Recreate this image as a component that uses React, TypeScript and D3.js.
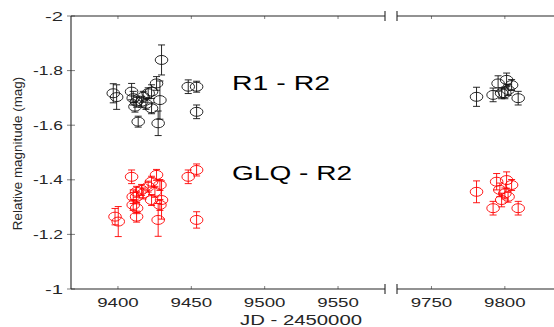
import React from 'react';
import * as d3 from 'd3';

// R1 - R2 (black)
const r1Jd = [9396.8, 9399.1, 9409.3, 9410.4, 9412.7, 9411.6, 9413.8, 9416.1, 9417.2, 9420.6, 9422.9, 9422.9, 9419.1, 9426.3, 9427.4, 9428.6, 9429.7, 9447.9, 9453.6, 9453.6,
  9780.7, 9792.0, 9795.4, 9797.8, 9800.0, 9801.2, 9802.2, 9804.6, 9809.1];
const r1Mag = [-1.717, -1.703, -1.723, -1.699, -1.686, -1.668, -1.613, -1.686, -1.704, -1.717, -1.723, -1.662, -1.678, -1.753, -1.607, -1.692, -1.839, -1.741, -1.741, -1.649,
  -1.704, -1.711, -1.753, -1.717, -1.717, -1.766, -1.729, -1.747, -1.699];
const r1Err = [0.035, 0.045, 0.03, 0.025, 0.02, 0.02, 0.02, 0.02, 0.02, 0.02, 0.025, 0.02, 0.02, 0.025, 0.045, 0.07, 0.055, 0.025, 0.02, 0.025,
  0.035, 0.025, 0.028, 0.02, 0.02, 0.025, 0.02, 0.02, 0.025];

// GLQ - R2 (red)
const glqJd = [9398.0, 9400.2, 9409.3, 9426.3, 9447.9, 9453.6, 9422.9, 9420.6, 9416.1, 9412.7, 9417.2, 9412.7, 9410.4, 9425.2, 9428.6, 9410.4, 9412.7, 9412.7, 9422.9, 9429.7, 9428.6, 9427.4, 9453.6,
  9780.7, 9792.0, 9794.4, 9796.6, 9797.8, 9800.0, 9801.2, 9802.2, 9804.6, 9809.1];
const glqMag = [-1.265, -1.247, -1.411, -1.418, -1.411, -1.436, -1.393, -1.375, -1.363, -1.356, -1.350, -1.338, -1.338, -1.356, -1.381, -1.308, -1.296, -1.265, -1.326, -1.326, -1.308, -1.253, -1.253,
  -1.356, -1.296, -1.393, -1.363, -1.326, -1.350, -1.399, -1.338, -1.381, -1.296];
const glqErr = [0.03, 0.055, 0.025, 0.02, 0.025, 0.022, 0.02, 0.02, 0.02, 0.02, 0.02, 0.02, 0.025, 0.02, 0.02, 0.02, 0.02, 0.02, 0.02, 0.07, 0.02, 0.06, 0.03,
  0.04, 0.025, 0.03, 0.025, 0.025, 0.02, 0.03, 0.02, 0.02, 0.025];

const xTicksLeft = [9400, 9450, 9500, 9550];
const xTicksRight = [9750, 9800];
const yTicks = [-2, -1.8, -1.6, -1.4, -1.2, -1];
const yTickLabels = ['-2', '-1.8', '-1.6', '-1.4', '-1.2', '-1'];

const W = 554;
const H = 327;
const breakJd = 9600;

const xLeft = d3.scaleLinear().domain([9368, 9582]).range([71, 385]);
const xRight = d3.scaleLinear().domain([9726.5, 9833.5]).range([397, 554]);
const y = d3.scaleLinear().domain([-2, -1]).range([16, 289]);
const xOf = (jd: number) => (jd < breakJd ? xLeft(jd) : xRight(jd));

const axisColor = '#262626';
const font = 'Liberation Sans, Arial, sans-serif';

const Series = ({ jd, mag, err, color }: { jd: number[]; mag: number[]; err: number[]; color: string }) => (
  <g stroke={color} strokeWidth={0.9} fill="none">
    {jd.map((d, i) => {
      const cx = xOf(d);
      const y0 = y(mag[i] - err[i]);
      const y1 = y(mag[i] + err[i]);
      return (
        <g key={i}>
          <line x1={cx} x2={cx} y1={y0} y2={y1} />
          <line x1={cx - 3.5} x2={cx + 3.5} y1={y0} y2={y0} />
          <line x1={cx - 3.5} x2={cx + 3.5} y1={y1} y2={y1} />
          <ellipse cx={cx} cy={y(mag[i])} rx={6.3} ry={4.5} />
        </g>
      );
    })}
  </g>
);

export default function App() {
  const top = y.range()[0];
  const bottom = y.range()[1];
  const [l0, l1] = xLeft.range();
  const [r0, r1] = xRight.range();

  return (
    <svg width={W} height={H} style={{ position: 'absolute', left: 0, top: 0, background: '#fff' }}>
      {/* axes */}
      <g stroke={axisColor} strokeWidth={1.1} fill="none">
        <line x1={l0} x2={l0} y1={top} y2={bottom} />
        <line x1={l0} x2={l1} y1={top} y2={top} />
        <line x1={l0} x2={l1} y1={bottom} y2={bottom} />
        <line x1={r0} x2={r1} y1={top} y2={top} />
        <line x1={r0} x2={r1} y1={bottom} y2={bottom} />
        {[l1, r0].map((bx) => (
          <g key={bx}>
            <line x1={bx} x2={bx} y1={top - 5} y2={top + 5} />
            <line x1={bx} x2={bx} y1={bottom - 5} y2={bottom + 5} />
          </g>
        ))}
      </g>
      <g stroke={axisColor} strokeWidth={0.6}>
        {yTicks.map((t) => (
          <line key={t} x1={l0 - 4} x2={l0 + 4} y1={y(t)} y2={y(t)} />
        ))}
        {xTicksLeft.map((t) => (
          <g key={t}>
            <line x1={xLeft(t)} x2={xLeft(t)} y1={bottom} y2={bottom - 3} />
            <line x1={xLeft(t)} x2={xLeft(t)} y1={top} y2={top + 3} />
          </g>
        ))}
        {xTicksRight.map((t) => (
          <g key={t}>
            <line x1={xRight(t)} x2={xRight(t)} y1={bottom} y2={bottom - 3} />
            <line x1={xRight(t)} x2={xRight(t)} y1={top} y2={top + 3} />
          </g>
        ))}
      </g>

      {/* tick labels */}
      <g fill={axisColor} fontFamily={font} fontSize={13}>
        {yTicks.map((t, i) => (
          <text key={t} x={63} y={y(t) + 4.6} textAnchor="end"
            textLength={yTickLabels[i].length > 2 ? 30 : 18} lengthAdjust="spacingAndGlyphs">
            {yTickLabels[i]}
          </text>
        ))}
        {xTicksLeft.map((t) => (
          <text key={t} x={xLeft(t) - 20.8} y={306.5} textLength={41.6} lengthAdjust="spacingAndGlyphs">{t}</text>
        ))}
        {xTicksRight.map((t) => (
          <text key={t} x={xRight(t) - 20.8} y={306.5} textLength={41.6} lengthAdjust="spacingAndGlyphs">{t}</text>
        ))}
      </g>

      {/* axis titles */}
      <text x={240} y={325} fontFamily={font} fontSize={14} fill={axisColor}
        textLength={122} lengthAdjust="spacingAndGlyphs">JD - 2450000</text>
      <text transform="translate(22,153.5) rotate(-90)" textAnchor="middle" fontFamily={font}
        fontSize={13.4} fill={axisColor}>Relative magnitude (mag)</text>

      {/* data */}
      <Series jd={r1Jd} mag={r1Mag} err={r1Err} color="#111" />
      <Series jd={glqJd} mag={glqMag} err={glqErr} color="#ff0000" />

      {/* series labels */}
      <text x={232} y={90} fontFamily={font} fontSize={21} fill="#000"
        textLength={98} lengthAdjust="spacingAndGlyphs">R1 - R2</text>
      <text x={232} y={180} fontFamily={font} fontSize={21} fill="#000"
        textLength={120} lengthAdjust="spacingAndGlyphs">GLQ - R2</text>
    </svg>
  );
}
